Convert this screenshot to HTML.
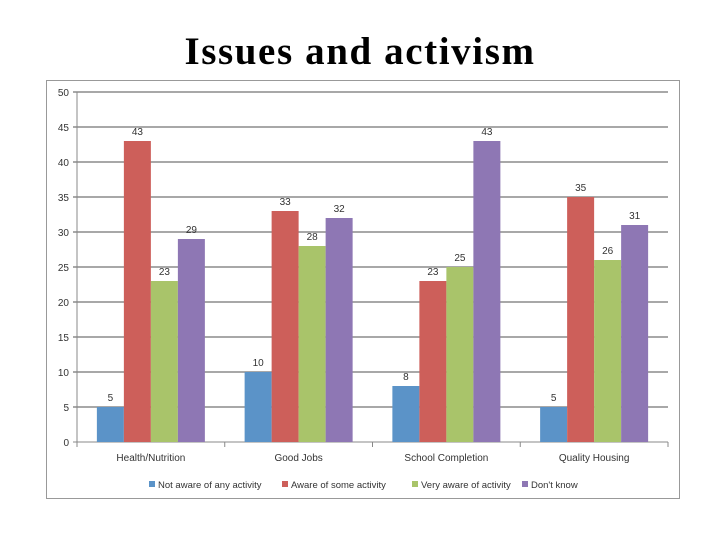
<!DOCTYPE html>
<html><head><meta charset="utf-8"><style>
body{margin:0;width:720px;height:540px;background:#fff;overflow:hidden}
#title{position:absolute;top:29px;left:0;width:720px;text-align:center;font:bold 39px "Liberation Serif",serif;letter-spacing:1.6px;color:#000}
svg{position:absolute;left:0;top:0}
</style></head><body>
<div id="title">Issues and activism</div>
<svg width="720" height="540">
<rect x="46.5" y="80.5" width="633" height="418" fill="#fff" stroke="#999"/>
<g id="g"></g>
</svg>
<script>
const categories=["Health/Nutrition","Good Jobs","School Completion","Quality Housing"];
const seriesNames=["Not aware of any activity","Aware of some activity","Very aware of activity","Don't know"];
const notAware=[5,10,8,5];
const someAware=[43,33,23,35];
const veryAware=[23,28,25,26];
const dontKnow=[29,32,43,31];
const yTicks=[0,5,10,15,20,25,30,35,40,45,50];
const series=[notAware,someAware,veryAware,dontKnow];
const colors=["#5b93c8","#cd5f5a","#a9c46a","#8e77b4"];
const X0=77,X1=668,Y0=442,Y50=92;
const y=v=>Y0-(v/50)*(Y0-Y50);
const gw=(X1-X0)/categories.length, bw=27;
const g=document.getElementById('g');const NS="http://www.w3.org/2000/svg";
function mk(t,a,txt){const e=document.createElementNS(NS,t);for(const k in a)e.setAttribute(k,a[k]);if(txt!=null)e.textContent=txt;g.appendChild(e);return e;}
yTicks.forEach(t=>{
 const l=mk('line',{x1:X0-4,x2:X1,y1:y(t),y2:y(t),stroke:t===0?'#888':'#8c8c8c','stroke-width':t===0?1:1.5});
 
 
 const tx=mk('text',{x:X0-8,y:y(t)+4,'text-anchor':'end','font-size':10,'font-family':'Liberation Sans, sans-serif',fill:'#333'},t);
 
 
});
const ax=mk('line',{x1:X0,x2:X0,y1:Y50,y2:Y0,stroke:'#888'});


for(let i=0;i<=categories.length;i++){const tk=mk('line',{x1:X0+i*gw,x2:X0+i*gw,y1:Y0,y2:Y0+5,stroke:'#888'});
 
 }
categories.forEach((c,i)=>{
 const gx=X0+i*gw+(gw-4*bw)/2;
 series.forEach((s,j)=>{
  const v=s[i];
  const r=mk('rect',{x:gx+j*bw,y:y(v),width:bw,height:Y0-y(v),fill:colors[j]});
  
  
  const t=mk('text',{x:gx+j*bw+bw/2,y:y(v)-6,'text-anchor':'middle','font-size':10,'font-family':'Liberation Sans, sans-serif',fill:'#333'},v);
  
  
 });
 const cl=mk('text',{x:X0+i*gw+gw/2,y:461,'text-anchor':'middle','font-size':10,'font-family':'Liberation Sans, sans-serif',fill:'#333'},c);
 
 
});
const lx=[149,282,412,522];
seriesNames.forEach((n,j)=>{
 const r=mk('rect',{x:lx[j],y:481,width:6,height:6,fill:colors[j]});
 
 
 const t=mk('text',{x:lx[j]+9,y:488,'font-size':9.5,'font-family':'Liberation Sans, sans-serif',fill:'#333'},n);
 
 
});
</script>
</body></html>
